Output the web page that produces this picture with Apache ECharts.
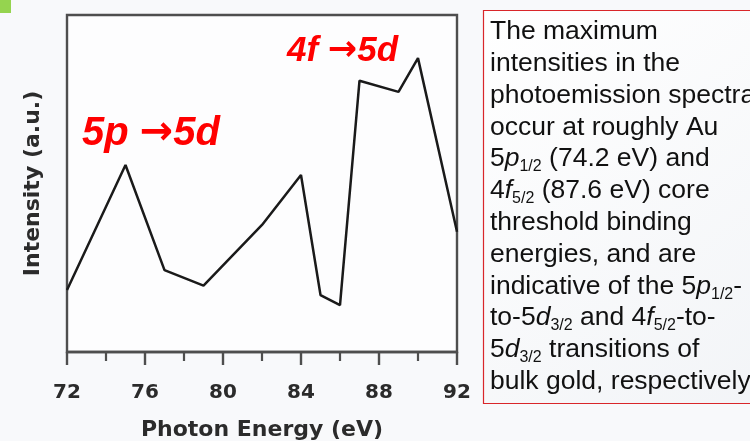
<!DOCTYPE html>
<html>
<head>
<meta charset="utf-8">
<script src="https://cdn.jsdelivr.net/npm/echarts@6/dist/echarts.min.js"></script>
<style>
html,body{margin:0;padding:0;background:#f8f9fb;}
#chart{width:750px;height:441px;}
</style>
</head>
<body>
<div id="chart"></div>
<script>
// Data
var photonEnergy = [72, 75, 77, 79, 82, 84, 85, 86, 87, 89, 90, 92];
var intensity    = [18.4, 55.5, 24.3, 19.7, 37.7, 52.5, 16.9, 13.9, 80.5, 77.2, 87.2, 35.7];
var xTickLabels  = [72, 76, 80, 84, 88, 92];
var xAxisName = 'Photon Energy (eV)';
var yAxisName = 'Intensity (a.u.)';
var note = [
  'The maximum',
  'intensities in the',
  'photoemission spectra',
  'occur at roughly Au',
  '5{i|p}{s|1/2} (74.2 eV) and',
  '4{i|f}{s|5/2} (87.6 eV) core',
  'threshold binding',
  'energies, and are',
  'indicative of the 5{i|p}{s|1/2}-',
  'to-5{i|d}{s|3/2} and 4{i|f}{s|5/2}-to-',
  '5{i|d}{s|3/2} transitions of',
  'bulk gold, respectively.'
];

var axisFont = 'DejaVu Sans';
var axisColor = '#2b2b2b';
var frameColor = '#4e4e4e';
var sans = '"Liberation Sans", Arial, sans-serif';

var chart = echarts.init(document.getElementById('chart'), null, {renderer: 'canvas'});
var pts = photonEnergy.map(function (e, i) { return [e, intensity[i]]; });

function redLabel(size) {
  return {
    t: {fontStyle: 'italic', fontWeight: 'bold', fontSize: size, fontFamily: sans, color: '#ff0000', fill: '#ff0000'},
    a: {fontWeight: 'bold', fontSize: size, fontFamily: 'DejaVu Sans', color: '#ff0000', fill: '#ff0000'}
  };
}

chart.setOption({
  backgroundColor: 'transparent',
  animation: false,
  grid: {
    left: 67, top: 15, right: 293, bottom: 89,
    containLabel: false, outerBoundsMode: 'none',
    show: true, borderColor: frameColor, borderWidth: 2.4, backgroundColor: '#fdfdfe'
  },
  xAxis: {
    type: 'value', min: xTickLabels[0], max: xTickLabels[xTickLabels.length - 1], interval: 4,
    axisLine: {show: true, lineStyle: {color: frameColor, width: 2.4}},
    axisTick: {show: true, length: 13, lineStyle: {color: frameColor, width: 2.4}},
    minorTick: {show: true, splitNumber: 2, length: 9, lineStyle: {color: frameColor, width: 2.2}},
    splitLine: {show: false},
    axisLabel: {
      margin: 31, color: axisColor, fontFamily: axisFont, fontWeight: 'bold', fontSize: 20,
      formatter: function (v) { return xTickLabels.indexOf(v) >= 0 ? String(v) : ''; }
    },
    name: xAxisName, nameLocation: 'middle', nameGap: 67,
    nameTextStyle: {color: axisColor, fontFamily: axisFont, fontWeight: 'bold', fontSize: 22}
  },
  yAxis: {
    type: 'value', min: 0, max: 100,
    axisLine: {show: false}, axisTick: {show: false}, axisLabel: {show: false},
    splitLine: {show: false},
    name: yAxisName, nameLocation: 'middle', nameGap: 23, nameRotate: 90,
    nameTextStyle: {color: axisColor, fontFamily: axisFont, fontWeight: 'bold', fontSize: 22}
  },
  series: [{
    type: 'line', data: pts, showSymbol: false, symbol: 'none',
    lineStyle: {color: '#1a1a1a', width: 2.5}
  }],
  graphic: [
    {type: 'rect', left: 0, top: 0, shape: {width: 11, height: 13}, style: {fill: '#95d44f'}},
    {
      type: 'text', x: 82, y: 134,
      style: {
        text: '{t|5p }{a|\u2192}{t|5d}', verticalAlign: 'middle', align: 'left',
        rich: redLabel(40)
      }
    },
    {
      type: 'text', x: 287, y: 51,
      style: {
        text: '{t|4f }{a|\u2192}{t|5d}', verticalAlign: 'middle', align: 'left',
        rich: redLabel(35)
      }
    },
    {
      type: 'rect', x: 483.5, y: 10.5, shape: {width: 300, height: 393},
      style: {
        fill: new echarts.graphic.LinearGradient(0, 0, 1, 1, [
          {offset: 0, color: '#ffffff'}, {offset: 1, color: '#f2f4f7'}
        ]),
        stroke: '#d9262a', lineWidth: 1.2
      }
    },
    {
      type: 'text', x: 490, y: 16,
      style: {
        text: note.join('\n'),
        font: '26.5px ' + sans,
        fill: '#111111', lineHeight: 31.8, verticalAlign: 'top', align: 'left',
        rich: {
          i: {fontStyle: 'italic', fontSize: 26.5, fontFamily: sans, lineHeight: 31.8, fill: '#111111', color: '#111111'},
          s: {fontSize: 16, fontFamily: sans, lineHeight: 8, verticalAlign: 'bottom', fill: '#111111', color: '#111111'}
        }
      }
    }
  ]
});
</script>
</body>
</html>
